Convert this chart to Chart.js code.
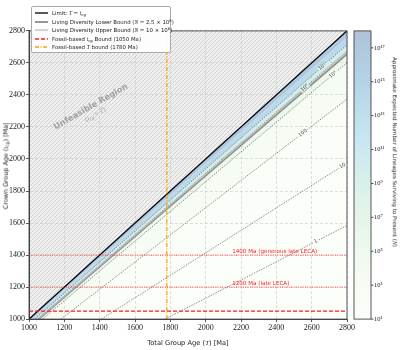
<!DOCTYPE html>
<html lang="en">
<head>
<meta charset="UTF-8">
<title>Crown vs total group age</title>
<script src="https://cdn.jsdelivr.net/npm/chart.js"></script>
<style>
  body { margin: 0; background: #fff; }
  #wrap { position: relative; width: 400px; height: 350px; font-family: "DejaVu Sans", sans-serif; color: #222; }
  canvas { position: absolute; left: 0; top: 0; }
  .m { font-family: "Liberation Serif", "DejaVu Serif", serif; font-style: italic; }
  sub { font-size: 70%; vertical-align: -0.25em; line-height: 0; }
  sup { font-size: 70%; vertical-align: 0.45em; line-height: 0; }
  #legend { position: absolute; left: 31px; top: 6px; width: 138px; height: 45px; border: 0.8px solid #aaa; border-radius: 2px; background: rgba(255,255,255,0.92); font-size: 5.4px; }
  #legend .row { position: absolute; left: 3px; height: 8px; line-height: 8px; white-space: nowrap; }
  #legend svg { position: absolute; left: 0; top: 2px; }
  #legend span { position: absolute; left: 17px; top: 0; }
  .title { position: absolute; white-space: nowrap; font-size: 6.7px; line-height: 1; }
</style>
</head>
<body>
<div id="wrap">
  <canvas id="ageChart" width="400" height="350"></canvas>
  <div id="legend">
    <div class="row" style="top:2px"><svg width="13" height="4"><line x1="0" y1="2" x2="13" y2="2" stroke="#000" stroke-width="1.3"/></svg><span>Limit: <i class="m">T</i> = <i class="m">t</i><sub>cg</sub></span></div>
    <div class="row" style="top:10.5px"><svg width="13" height="4"><line x1="0" y1="2" x2="13" y2="2" stroke="#8c8c8c" stroke-width="1.8"/></svg><span>Living Diversity Lower Bound (<i class="m">N</i> = 2.5 × 10<sup>6</sup>)</span></div>
    <div class="row" style="top:19px"><svg width="13" height="4"><line x1="0" y1="2" x2="13" y2="2" stroke="#bdbdbd" stroke-width="1.3"/></svg><span>Living Diversity Upper Bound (<i class="m">N</i> = 10 × 10<sup>6</sup>)</span></div>
    <div class="row" style="top:27.5px"><svg width="13" height="4"><line x1="0" y1="2" x2="13" y2="2" stroke="#ff1a1a" stroke-width="1.4" stroke-dasharray="4 2"/></svg><span>Fossil-based <i class="m">t</i><sub>cg</sub> Bound (1050 Ma)</span></div>
    <div class="row" style="top:36px"><svg width="13" height="4"><line x1="0" y1="2" x2="13" y2="2" stroke="#ffa500" stroke-width="1.3" stroke-dasharray="4 1.5 1 1.5"/></svg><span>Fossil-based <i class="m">T</i> bound (1780 Ma)</span></div>
  </div>
  <div class="title" style="left:188px; top:340px; transform:translateX(-50%);">Total Group Age (<i class="m">T</i>) [Ma]</div>
  <div class="title" style="left:5.5px; top:166px; font-size:6.4px; transform:translate(-50%,-50%) rotate(-90deg);">Crown Group Age (<i class="m">t</i><sub>cg</sub>) [Ma]</div>
  <div class="title" style="left:394px; top:152px; font-size:5.6px; transform:translate(-50%,-50%) rotate(90deg);">Approximate Expected Number of Lineages Surviving to Present (<i class="m">N</i>)</div>
</div>
<script>
  // axis ticks
  const xTicks = [1000, 1200, 1400, 1600, 1800, 2000, 2200, 2400, 2600, 2800];
  const yTicks = [1000, 1200, 1400, 1600, 1800, 2000, 2200, 2400, 2600, 2800];
  const cbExponents = [1, 3, 5, 7, 9, 11, 13, 15, 17];

  // contour lines of N, read as [T where t_cg = 1000] and [t_cg where T = 2800]
  const contourText = ['1', '10', '100', '10⁴', '10⁸', '10¹²'];
  const contourFrom = [1770, 1410, 1180, 1076, 1047, 1032];
  const contourTo = [1585, 1975, 2374, 2601, 2674, 2713];
  const contourLabelT = [2624, 2775, 2550, 2720, 2560, 2664];

  // shading of the N field (log10 N) along the same kind of rays
  const shadeLog = [0, 1, 2, 4, 7, 8, 12, 16, 18];
  const shadeFrom = [1770, 1410, 1180, 1076, 1053, 1047, 1032, 1015, 1000];
  const shadeTo = [1585, 1975, 2374, 2601, 2660, 2674, 2713, 2758, 2800];

  // living diversity bounds
  const lowerBound = [[1055, 1000], [2800, 2655]];
  const upperBound = [[1050, 1000], [2800, 2667]];

  // fossil bounds
  const tcgFossil = 1050;
  const tFossil = 1780;
  const lecaAges = [1400, 1200];
  const lecaText = ['1400 Ma (generous late LECA)', '1200 Ma (late LECA)'];

  const cmapStops = ['#f7fcf0', '#e0f3db', '#ccebc5', '#a8ddb5', '#7bccc4', '#4eb3d3', '#2b8cbe', '#0868ac', '#084081'];
  const ALPHA = 0.32;

  function hex(h) {
    return [1, 3, 5].map(i => parseInt(h.substr(i, 2), 16));
  }
  function cmap(logN) {
    let t = (logN - 1) / 17;
    t = Math.max(0, Math.min(1, t));
    const p = t * (cmapStops.length - 1);
    const i = Math.min(Math.floor(p), cmapStops.length - 2);
    const f = p - i;
    const a = hex(cmapStops[i]), b = hex(cmapStops[i + 1]);
    const c = a.map((v, k) => v + (b[k] - v) * f).map(v => Math.round(255 + (v - 255) * ALPHA));
    return `rgb(${c.join(',')})`;
  }

  function hatchPattern() {
    const c = document.createElement('canvas');
    c.width = 4; c.height = 4;
    const g = c.getContext('2d');
    g.fillStyle = '#efefef';
    g.fillRect(0, 0, 4, 4);
    g.strokeStyle = '#bdbdbd';
    g.lineWidth = 0.6;
    g.beginPath();
    g.moveTo(0, 4); g.lineTo(4, 0);
    g.moveTo(-1, 1); g.lineTo(1, -1);
    g.moveTo(3, 5); g.lineTo(5, 3);
    g.stroke();
    return g.createPattern(c, 'repeat');
  }

  const pts = arr => arr.map(p => ({x: p[0], y: p[1]}));
  const datasets = [];

  function line(data, color, width, dash, order) {
    datasets.push({data: pts(data), borderColor: color, borderWidth: width, borderDash: dash,
      pointRadius: 0, fill: false, order: order});
  }

  // lines, top first
  line([[1000, tcgFossil], [2800, tcgFossil]], '#ff1a1a', 1.4, [4, 2], 1);
  line([[tFossil, 1000], [tFossil, 2800]], '#ffa500', 1.3, [4, 1.5, 1, 1.5], 2);
  lecaAges.forEach(a => line([[1000, a], [2800, a]], '#ff2020', 0.9, [1, 1.3], 3));
  line([[1000, 1000], [2800, 2800]], '#000', 1.3, [], 4);
  line(upperBound, '#bdbdbd', 1.2, [], 5);
  line(lowerBound, '#8c8c8c', 1.8, [], 6);
  contourFrom.forEach((f, i) => line([[f, 1000], [2800, contourTo[i]]], 'rgba(40,40,40,0.75)', 0.7, [1.5, 1.2], 7));

  // infeasible region
  datasets.push({data: pts([[1000, 1000], [1000, 2800], [2800, 2800]]), borderWidth: 0, pointRadius: 0,
    fill: 'shape', backgroundColor: hatchPattern(), order: 20});
  // shaded bands of N
  datasets.push({data: pts([[shadeFrom[0], 1000], [2800, shadeTo[0]], [2800, 1000]]), borderWidth: 0,
    pointRadius: 0, fill: 'shape', backgroundColor: cmap(shadeLog[0]), order: 21});
  for (let i = 0; i < shadeLog.length - 1; i++) {
    datasets.push({
      data: pts([[shadeFrom[i], 1000], [2800, shadeTo[i]], [2800, shadeTo[i + 1]], [shadeFrom[i + 1], 1000]]),
      borderWidth: 0, pointRadius: 0, fill: 'shape',
      backgroundColor: cmap((shadeLog[i] + shadeLog[i + 1]) / 2), order: 22 + i
    });
  }

  const supDigits = {'0': '⁰', '1': '¹', '2': '²', '3': '³', '4': '⁴', '5': '⁵', '6': '⁶', '7': '⁷', '8': '⁸', '9': '⁹'};
  const serif = '"Liberation Serif", "DejaVu Serif", serif';

  const extras = {
    id: 'extras',
    afterDatasetsDraw(chart) {
      const {ctx, chartArea: a, scales: {x, y}} = chart;
      ctx.save();
      ctx.beginPath();
      ctx.rect(a.left, a.top, a.right - a.left, a.bottom - a.top);
      ctx.clip();
      // contour labels
      ctx.font = '5px "DejaVu Sans", sans-serif';
      ctx.textAlign = 'center';
      ctx.textBaseline = 'middle';
      contourText.forEach((txt, i) => {
        const T = contourLabelT[i];
        const t = 1000 + (T - contourFrom[i]) * (contourTo[i] - 1000) / (2800 - contourFrom[i]);
        const px = x.getPixelForValue(T), py = y.getPixelForValue(t);
        const ang = Math.atan2(y.getPixelForValue(contourTo[i]) - y.getPixelForValue(1000),
          x.getPixelForValue(2800) - x.getPixelForValue(contourFrom[i]));
        ctx.save();
        ctx.translate(px, py);
        ctx.rotate(ang);
        const w = ctx.measureText(txt).width + 2;
        ctx.fillStyle = cmap(i < 4 ? 2 : 9);
        ctx.fillRect(-w / 2, -2.5, w, 5);
        ctx.fillStyle = '#444';
        ctx.fillText(txt, 0, 0);
        ctx.restore();
      });
      // LECA labels
      ctx.font = '5.6px "DejaVu Sans", sans-serif';
      ctx.textAlign = 'left';
      ctx.textBaseline = 'bottom';
      ctx.fillStyle = '#ff2020';
      lecaAges.forEach((v, i) => ctx.fillText(lecaText[i], x.getPixelForValue(2150), y.getPixelForValue(v) - 1));
      // infeasible region label
      ctx.save();
      ctx.translate(x.getPixelForValue(1350), y.getPixelForValue(2325));
      ctx.rotate(-30 * Math.PI / 180);
      ctx.fillStyle = '#a0a0a0';
      ctx.textAlign = 'center';
      ctx.textBaseline = 'middle';
      ctx.font = 'bold 8.2px "DejaVu Sans", sans-serif';
      ctx.fillText('Unfeasible Region', 0, 0);
      const parts = [['(', '7px ' + serif, 0], ['t', 'italic 7px ' + serif, 0], ['cg', 'italic 5px ' + serif, 1.5], [' > ', '7px ' + serif, 0], ['T', 'italic 7px ' + serif, 0], [')', '7px ' + serif, 0]];
      let total = 0;
      parts.forEach(p => { ctx.font = p[1]; total += ctx.measureText(p[0]).width; });
      let cx = -total / 2;
      ctx.textAlign = 'left';
      parts.forEach(p => { ctx.font = p[1]; ctx.fillText(p[0], cx, 9 + p[2]); cx += ctx.measureText(p[0]).width; });
      ctx.restore();
      ctx.restore();
    },
    afterDraw(chart) {
      const {ctx, chartArea: a, scales: {cb}} = chart;
      ctx.save();
      ctx.strokeStyle = '#444';
      ctx.lineWidth = 0.9;
      ctx.strokeRect(a.left, a.top, a.right - a.left, a.bottom - a.top);
      // colour bar
      const x0 = cb.left + 7, w = 17;
      const g = ctx.createLinearGradient(0, cb.bottom, 0, cb.top);
      for (let k = 0; k <= 34; k++) g.addColorStop(k / 34, cmap(1 + 17 * k / 34));
      ctx.fillStyle = g;
      ctx.fillRect(x0, cb.top, w, cb.bottom - cb.top);
      ctx.strokeRect(x0, cb.top, w, cb.bottom - cb.top);
      ctx.beginPath();
      cb.ticks.forEach(t => {
        const py = cb.getPixelForValue(t.value);
        ctx.moveTo(x0 + w, py);
        ctx.lineTo(x0 + w + 2.5, py);
      });
      ctx.stroke();
      ctx.restore();
    }
  };

  const tickFont = {family: serif, size: 8};
  const ctx = document.getElementById('ageChart').getContext('2d');
  const chart = new Chart(ctx, {
    type: 'line',
    data: {datasets},
    options: {
      responsive: false,
      animation: false,
      layout: {padding: {top: 4}},
      plugins: {legend: {display: false}, tooltip: {enabled: false}, filler: {drawTime: 'beforeDraw'}},
      scales: {
        x: {
          type: 'linear', min: 1000, max: 2800,
          afterBuildTicks: s => { s.ticks = xTicks.map(v => ({value: v})); },
          afterFit: s => { s.height = 22; },
          ticks: {font: tickFont, color: '#222', padding: 1, maxRotation: 0, callback: v => String(v)},
          grid: {color: 'rgba(190,190,190,0.7)', lineWidth: 0.7, tickLength: 3, tickColor: '#333', tickWidth: 0.8},
          border: {color: '#444', dash: [3, 2]}
        },
        y: {
          type: 'linear', min: 1000, max: 2800,
          afterBuildTicks: s => { s.ticks = yTicks.map(v => ({value: v})); },
          afterFit: s => { s.width = 29; },
          ticks: {font: tickFont, color: '#222', padding: 1, callback: v => String(v)},
          grid: {color: 'rgba(190,190,190,0.7)', lineWidth: 0.7, tickLength: 3, tickColor: '#333', tickWidth: 0.8},
          border: {color: '#444', dash: [3, 2]}
        },
        cb: {
          type: 'logarithmic', position: 'right', min: 10, max: 1e18,
          afterBuildTicks: s => { s.ticks = cbExponents.map(e => ({value: Math.pow(10, e)})); },
          afterFit: s => { s.width = 53; },
          ticks: {
            font: {family: serif, size: 6.5}, color: '#222', padding: 27,
            callback: v => '10' + String(Math.round(Math.log10(v))).split('').map(d => supDigits[d]).join('')
          },
          grid: {display: false, drawTicks: false},
          border: {display: false}
        }
      }
    },
    plugins: [extras]
  });
</script>
</body>
</html>
